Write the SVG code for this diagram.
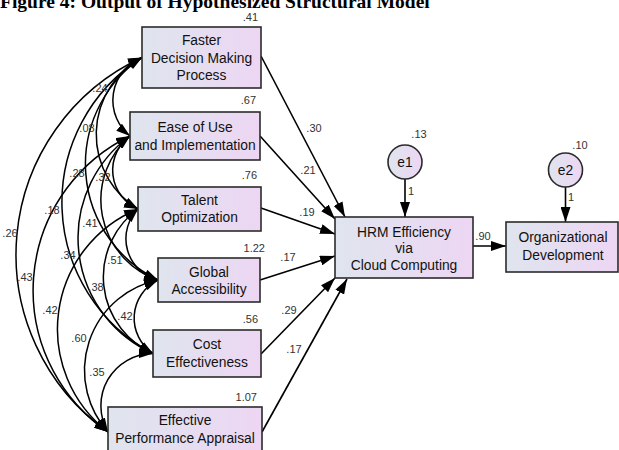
<svg xmlns="http://www.w3.org/2000/svg" width="619" height="450" viewBox="0 0 619 450">
  <defs>
    <linearGradient id="boxFill" x1="0" y1="0" x2="1" y2="0">
      <stop offset="0" stop-color="#dfe5ee"/>
      <stop offset="1" stop-color="#edd6f3"/>
    </linearGradient>
    <marker id="head" viewBox="0 0 15 10" refX="15" refY="5" markerWidth="15" markerHeight="10" markerUnits="userSpaceOnUse" orient="auto-start-reverse">
      <path d="M0,0 L15,5 L0,10 z" fill="#000"/>
    </marker>
    <marker id="covHead" viewBox="0 0 14 9" refX="14" refY="4.5" markerWidth="14" markerHeight="9" markerUnits="userSpaceOnUse" orient="auto-start-reverse">
      <path d="M0,0 L14,4.5 L0,9 z" fill="#000"/>
    </marker>
  </defs>
  <style>
    .box { fill: url(#boxFill); stroke: #2b2b2b; stroke-width: 1.6; }
    .err { fill: url(#boxFill); stroke: #2b2b2b; stroke-width: 1.6; }
    .lbl { font-family: "Liberation Sans", Arial, sans-serif; font-size: 13.8px; fill: #111; text-anchor: middle; }
    .num { font-family: "Liberation Sans", Arial, sans-serif; font-size: 11px; fill: #333; }
    .mid { text-anchor: middle; }
    .end { text-anchor: end; }
    .path { fill: none; stroke: #000; stroke-width: 1.6; marker-end: url(#head); }
    .cov { fill: none; stroke: #000; stroke-width: 1.5; marker-start: url(#covHead); marker-end: url(#covHead); }
    .title { font-family: "Liberation Serif", "Times New Roman", serif; font-weight: bold; font-size: 19.5px; fill: #000; }
  </style>

  <text class="title" x="0" y="8">Figure 4: Output of Hypothesized Structural Model</text>

  <!-- covariances between the six exogenous variables -->
  <g id="covariances">
    <path class="cov" d="M142,57.5 A45.9,45.9 0 0 0 130,136"/>
    <path class="cov" d="M142,57.5 A87.5,87.5 0 0 0 138,209"/>
    <path class="cov" d="M142,57.5 A128.8,128.8 0 0 0 158,280"/>
    <path class="cov" d="M142,57.5 A171,171 0 0 0 153,353.5"/>
    <path class="cov" d="M142,57.5 A217.1,217.1 0 0 0 108,432"/>
    <path class="cov" d="M130,136 A42.4,42.4 0 0 0 138,209"/>
    <path class="cov" d="M130,136 A84.7,84.7 0 0 0 158,280"/>
    <path class="cov" d="M130,136 A126.3,126.3 0 0 0 153,353.5"/>
    <path class="cov" d="M130,136 A171.4,171.4 0 0 0 108,432"/>
    <path class="cov" d="M138,209 A42.6,42.6 0 0 0 158,280"/>
    <path class="cov" d="M138,209 A83.9,83.9 0 0 0 153,353.5"/>
    <path class="cov" d="M138,209 A129.9,129.9 0 0 0 108,432"/>
    <path class="cov" d="M158,280 A42.5,42.5 0 0 0 153,353.5"/>
    <path class="cov" d="M158,280 A92.4,92.4 0 0 0 108,432"/>
    <path class="cov" d="M153,353.5 A52.2,52.2 0 0 0 108,432"/>
    <text class="num mid" x="100" y="92">.24</text>
    <text class="num mid" x="87" y="132">.08</text>
    <text class="num mid" x="77" y="177">.28</text>
    <text class="num mid" x="103" y="181">.32</text>
    <text class="num mid" x="52" y="214">.18</text>
    <text class="num mid" x="90" y="227">.41</text>
    <text class="num mid" x="10" y="237">.26</text>
    <text class="num mid" x="68" y="259">.34</text>
    <text class="num mid" x="115" y="264">.51</text>
    <text class="num mid" x="25" y="281">.43</text>
    <text class="num mid" x="96" y="291">.38</text>
    <text class="num mid" x="125" y="320">.42</text>
    <text class="num mid" x="50" y="314">.42</text>
    <text class="num mid" x="79" y="342">.60</text>
    <text class="num mid" x="97" y="376">.35</text>
  </g>

  <!-- regression paths -->
  <g id="paths">
    <line class="path" x1="261" y1="56" x2="345" y2="217"/>
    <line class="path" x1="260" y1="136" x2="335" y2="219"/>
    <line class="path" x1="261" y1="208" x2="335" y2="234"/>
    <line class="path" x1="260" y1="280" x2="335" y2="256"/>
    <line class="path" x1="261" y1="354" x2="335" y2="278"/>
    <line class="path" x1="262" y1="432" x2="347" y2="279"/>
    <line class="path" x1="405" y1="179" x2="405" y2="217"/>
    <line class="path" x1="565.5" y1="187" x2="565.5" y2="222"/>
    <line class="path" x1="473" y1="246" x2="506" y2="246"/>
    <text class="num mid" x="314" y="132">.30</text>
    <text class="num mid" x="308" y="174">.21</text>
    <text class="num mid" x="307" y="216">.19</text>
    <text class="num mid" x="288" y="261">.17</text>
    <text class="num mid" x="289" y="314">.29</text>
    <text class="num mid" x="294" y="353">.17</text>
    <text class="num" x="408" y="195">1</text>
    <text class="num" x="568" y="201">1</text>
    <text class="num mid" x="483" y="240">.90</text>
  </g>

  <g id="faster">
    <rect class="box" x="142" y="27" width="119" height="61"/>
    <text class="lbl" x="201.5" y="45">Faster</text>
    <text class="lbl" x="201.5" y="62.5">Decision Making</text>
    <text class="lbl" x="201.5" y="79.5">Process</text>
    <text class="num end" x="258" y="21">.41</text>
  </g>

  <g id="ease">
    <rect class="box" x="130" y="112" width="130" height="48"/>
    <text class="lbl" x="195" y="132">Ease of Use</text>
    <text class="lbl" x="195" y="149.5">and Implementation</text>
    <text class="num end" x="256" y="104">.67</text>
  </g>

  <g id="talent">
    <rect class="box" x="138" y="187" width="123" height="44"/>
    <text class="lbl" x="199.5" y="205">Talent</text>
    <text class="lbl" x="199.5" y="222">Optimization</text>
    <text class="num end" x="257" y="179">.76</text>
  </g>

  <g id="global">
    <rect class="box" x="158" y="258" width="102" height="44"/>
    <text class="lbl" x="209" y="277">Global</text>
    <text class="lbl" x="209" y="293.5">Accessibility</text>
    <text class="num end" x="265" y="252">1.22</text>
  </g>

  <g id="cost">
    <rect class="box" x="153" y="330" width="108" height="47"/>
    <text class="lbl" x="207" y="349">Cost</text>
    <text class="lbl" x="207" y="366.5">Effectiveness</text>
    <text class="num end" x="258" y="323">.56</text>
  </g>

  <g id="appraisal">
    <rect class="box" x="108" y="407" width="154" height="50"/>
    <text class="lbl" x="185" y="425">Effective</text>
    <text class="lbl" x="185" y="442.5">Performance Appraisal</text>
    <text class="num end" x="257" y="401">1.07</text>
  </g>

  <g id="hrm">
    <rect class="box" x="335" y="217" width="138" height="61"/>
    <text class="lbl" x="404" y="236.5">HRM Efficiency</text>
    <text class="lbl" x="404" y="253">via</text>
    <text class="lbl" x="404" y="270">Cloud Computing</text>
  </g>

  <g id="e1">
    <circle class="err" cx="405" cy="162" r="17"/>
    <text class="lbl" x="405" y="167">e1</text>
    <text class="num mid" x="419" y="138">.13</text>
  </g>

  <g id="orgdev">
    <rect class="box" x="506" y="222" width="112" height="50"/>
    <text class="lbl" x="563" y="242">Organizational</text>
    <text class="lbl" x="563" y="260">Development</text>
  </g>

  <g id="e2">
    <circle class="err" cx="565.5" cy="170" r="17"/>
    <text class="lbl" x="565.5" y="175">e2</text>
    <text class="num mid" x="580" y="149">.10</text>
  </g>
</svg>
